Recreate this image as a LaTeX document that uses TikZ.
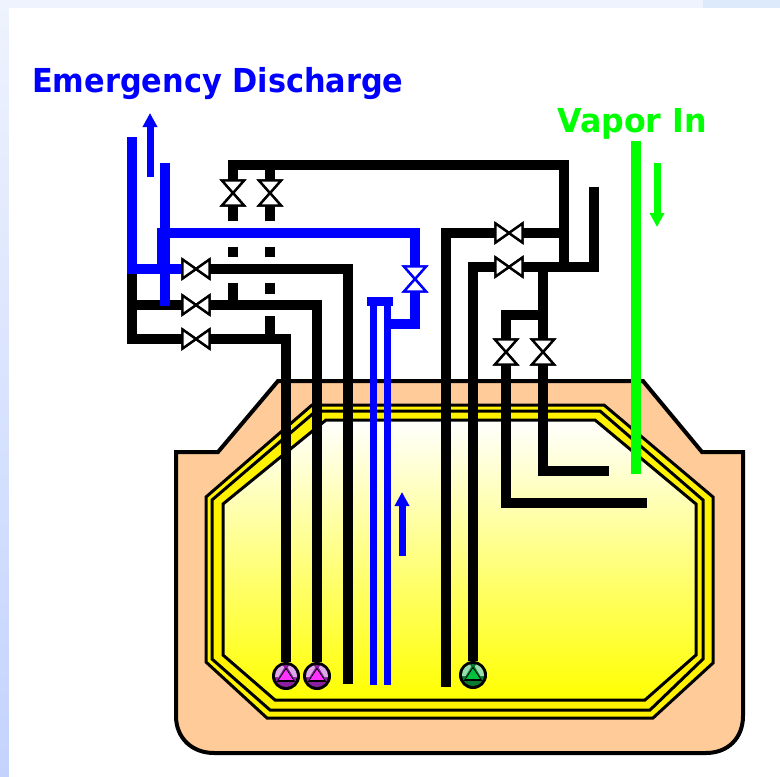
\documentclass[tikz,border=0pt]{standalone}
\usepackage{fontspec}
\setmainfont{DejaVu Sans}[BoldFont={DejaVu Sans Bold}]
\usetikzlibrary{arrows.meta,calc}
\definecolor{tankfill}{HTML}{FFCC99}
\definecolor{pureblue}{HTML}{0000FF}
\definecolor{puregreen}{HTML}{00FF00}
\definecolor{stripTop}{HTML}{EEF3FD}
\definecolor{stripBot}{HTML}{C4D3FE}
\definecolor{stripRight}{HTML}{DDEAFC}
\definecolor{pinkLight}{HTML}{DDA8E8}
\definecolor{pinkMid}{HTML}{FF33FF}
\definecolor{pinkDark}{HTML}{8A1FA0}
\definecolor{greenLight}{HTML}{9ADDAE}
\definecolor{greenMid}{HTML}{00C040}
\definecolor{greenDark}{HTML}{0A7A30}
\definecolor{softYellow}{HTML}{FFFF99}
\tikzset{
  x=1pt,y=-1pt,
  pipe/.style={line width=9.6pt,black,line join=miter},
  bluepipe/.style={line width=10pt,pureblue},
  thinblue/.style={line width=7pt,pureblue},
  greenpipe/.style={line width=10pt,puregreen},
  flowarrow/.style={line width=7pt,-{Triangle[length=14pt,width=14pt]}},
  shell/.style={line width=3pt,draw=black,line join=miter},
  valvebox/.style={inner sep=0pt,outer sep=0pt,minimum width=#1},
  valvestroke/.style={line width=2.4pt,fill=white,line join=miter},
  pumpbody/.style={circle,inner sep=0pt,outer sep=0pt,minimum size=28pt,fill=black},
  title/.style={font=\bfseries\fontsize{33}{36}\selectfont,inner sep=0pt,anchor=base west,xscale=#1,transform shape},
}
\newcommand{\valveH}[4][black]{%
  \node[valvebox=27pt,minimum height=19pt] (#2) at (#3,#4) {};
  \draw[valvestroke,draw=#1] (#2.north west) -- (#2.south east) -- (#2.north east) -- (#2.south west) -- cycle;
}
\newcommand{\valveV}[4][black]{%
  \node[valvebox=22pt,minimum height=25pt] (#2) at (#3,#4) {};
  \draw[valvestroke,draw=#1] (#2.north west) -- (#2.south east) -- (#2.south west) -- (#2.north east) -- cycle;
}
\newcommand{\pump}[6]{%
  \node[pumpbody] (#1) at (#2,#3) {};
  \begin{scope}
    \clip (#1) circle (11pt);
    \fill[#6] (#1) circle (11.5pt);
    \fill[#4] ($(#1)+(-13,1)$) -- ($(#1)+(-13,-13)$) -- ($(#1)+(-3.5,-13)$) -- ($(#1)+(-2,-8)$) -- ($(#1)+(-7.5,1)$) -- cycle;
    \fill[#4] ($(#1)+(13,1)$) -- ($(#1)+(13,-13)$) -- ($(#1)+(3.5,-13)$) -- ($(#1)+(2,-8)$) -- ($(#1)+(7.5,1)$) -- cycle;
    \fill[black] ($(#1)+(-13,4.5)$) rectangle ($(#1)+(13,6)$);
    \path[draw=black,line width=.8pt,fill=#5] ($(#1)+(0,-7.5)$) -- ($(#1)+(8,4.5)$) -- ($(#1)+(-8,4.5)$) -- cycle;
  \end{scope}
}
\begin{document}
\begin{tikzpicture}
\useasboundingbox (0,0) rectangle (780,777);
% page background
\shade[top color=stripTop,bottom color=stripBot,draw=none] (0,0) rectangle (9,777);
\fill[stripTop] (9,0) rectangle (703,8);
\fill[stripRight] (703,0) rectangle (780,8);
\fill[white] (9,8) rectangle (780,777);

% tank
\path[draw=black,line width=4pt,fill=tankfill,line join=miter]
  (278,381) -- (643,381) -- (702,452) -- (743,452) -- (743,716)
  .. controls (743,738) and (728,753) .. (706,753) -- (214,753)
  .. controls (192,753) and (176,738) .. (176,716) -- (176,452) -- (218,452) -- cycle;
\path[shell,fill=yellow] (206,497) -- (312,405) -- (604,405) -- (713,497) -- (713,663) -- (653,718) -- (267,718) -- (206,662) -- cycle;
\path[shell,fill=yellow] (212,500) -- (316,411) -- (600,411) -- (703,500) -- (703,659) -- (650,710) -- (270,710) -- (212,659) -- cycle;
\path[shell,top color=white,middle color=softYellow!88!white,bottom color=yellow] (223,504) -- (326,420) -- (595,420) -- (696,504) -- (696,655) -- (645,700) -- (275,700) -- (223,655) -- cycle;

% anchors
\coordinate (topL) at (233,165);
\coordinate (topR) at (564,165);
\coordinate (jA) at (564,233);
\coordinate (jB) at (564,267);
\coordinate (sideTop) at (594,187);
\coordinate (j543) at (543,267);
\coordinate (j315) at (543,315);
\coordinate (left270) at (132,269);
\coordinate (left305) at (132,305);
\coordinate (stub1) at (233,221);
\coordinate (stub2) at (270,221);
\coordinate (bot1) at (348,684);
\coordinate (bot2) at (446,687);
\coordinate (end470) at (609,471);
\coordinate (end503) at (647,503);

\valveV{vt1}{233}{193}
\valveV{vt2}{270}{193}
\valveH{vl1}{196}{269}
\valveH{vl2}{196}{305}
\valveH{vl3}{196}{339}
\valveH{vr1}{509}{233}
\valveH{vr2}{509}{267}
\valveV{vd1}{506}{352}
\valveV{vd2}{543}{352}
\valveV[pureblue]{vb}{415}{279}
\pump{p1}{286}{676}{pinkLight}{pinkMid}{pinkDark}
\pump{p2}{317}{676}{pinkLight}{pinkMid}{pinkDark}
\pump{p3}{473}{675}{greenLight}{greenMid}{greenDark}

% black pipes
\draw[pipe] (topL) -- (topR) -- (jB);
\draw[pipe] (233,160.2) -- (vt1.north);
\draw[pipe] (270,165) -- (vt2.north);
\draw[pipe] (vt1.south) -- (stub1);
\draw[pipe] (vt2.south) -- (stub2);
\draw[pipe] (233,247) -- (233,257);
\draw[pipe] (270,247) -- (270,257);
\draw[pipe] (233,283) -- (233,305);
\draw[pipe] (270,283) -- (270,294);
\draw[pipe] (270,316) -- (270,339);
\draw[pipe] (left270) -- (132,339) -- (vl3.west);
\draw[pipe] (left305) -- (vl2.west);
\draw[pipe] (vl1.east) -- (348,269) -- (bot1);
\draw[pipe] (vl2.east) -- (317,305) -- (p2.north);
\draw[pipe] (vl3.east) -- (286,339) -- (p1.north);
\draw[pipe] (jA) -- (vr1.east);
\draw[pipe] (vr1.west) -- (446,233) -- (bot2);
\draw[pipe] (sideTop) -- (594,267) -- (vr2.east);
\draw[pipe] (vr2.west) -- (473,267) -- (p3.north);
\draw[pipe] (j543) -- (vd2.north);
\draw[pipe] (j315) -- (506,315) -- (vd1.north);
\draw[pipe] (vd2.south) -- (543,471) -- (end470);
\draw[pipe] (vd1.south) -- (506,503) -- (end503);

% blue pipes
\coordinate (b1) at (132,137);
\coordinate (b2) at (165,163);
\coordinate (b3) at (165,306);
\coordinate (b4) at (157,233);
\draw[bluepipe] (b1) -- (132,269) -- (vl1.west);
\draw[bluepipe] (b2) -- (b3);
\draw[line width=13pt,pureblue] (163.5,228) -- (163.5,265);
\draw[bluepipe] (b4) -- (415,233) -- (vb.north);
\draw[bluepipe] (vb.south) -- (415,324) -- (389,324);
\coordinate (capL) at (367,301.5);
\coordinate (capR) at (393,301.5);
\draw[line width=9pt,pureblue] (capL) -- (capR);
\coordinate (tb1) at (373,685);
\coordinate (tb2) at (387,685);
\draw[thinblue] (373,301) -- (tb1);
\draw[thinblue] (387,301) -- (tb2);

% green pipe
\coordinate (g1) at (636,141);
\coordinate (g2) at (636,474);
\draw[greenpipe] (g1) -- (g2);

% flow arrows
\coordinate (a1s) at (150,177); \coordinate (a1e) at (150,113);
\coordinate (a2s) at (402,556); \coordinate (a2e) at (402,492);
\coordinate (a3s) at (657,163); \coordinate (a3e) at (657,227);
\draw[flowarrow,pureblue] (a1s) -- (a1e);
\draw[flowarrow,pureblue] (a2s) -- (a2e);
\draw[flowarrow,puregreen] (a3s) -- (a3e);

% valve bodies on top of the pipes
\valveV{vt1}{233}{193}
\valveV{vt2}{270}{193}
\valveH{vl1}{196}{269}
\valveH{vl2}{196}{305}
\valveH{vl3}{196}{339}
\valveH{vr1}{509}{233}
\valveH{vr2}{509}{267}
\valveV{vd1}{506}{352}
\valveV{vd2}{543}{352}
\valveV[pureblue]{vb}{415}{279}

% labels
\node[title=0.92,text=pureblue] (lblE) at (32,92) {Emergency Discharge};
\node[title=0.96,text=puregreen] (lblV) at (557,132) {Vapor In};
\end{tikzpicture}
\end{document}
